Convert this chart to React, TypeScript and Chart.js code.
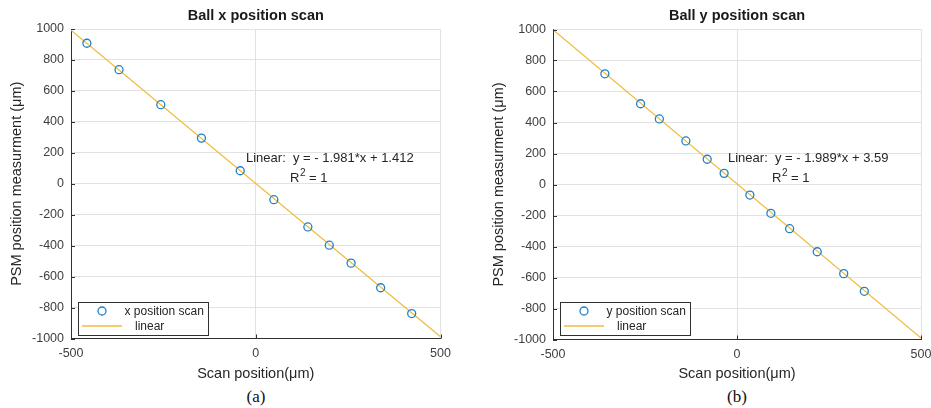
import React, { useEffect, useRef } from "react";
import { Chart, registerables } from "chart.js";

Chart.register(...registerables);

// ---------- data ----------
const xScanPos = [-457, -370, -257, -147, -42, 49, 141, 199, 258, 338, 422];
const xScanMeas = [908, 737, 511, 295, 84, -103, -279, -397, -513, -672, -839];
const yScanPos = [-359, -262, -211, -139, -81, -35, 35, 92, 143, 218, 290, 346];
const yScanMeas = [714, 521, 423, 281, 163, 72, -68, -186, -285, -434, -575, -689];
const fitRange = [-500, 500];
const xFitMeas = [992, -989];
const yFitMeas = [998, -991];
const xTickValues = [-500, 0, 500];
const yTickValues = [-1000, -800, -600, -400, -200, 0, 200, 400, 600, 800, 1000];
const panelTitles = ["Ball x position scan", "Ball y position scan"];
const seriesLabels = ["x position scan", "y position scan"];
const fitLabel = "linear";
const fitEquations = ["Linear:  y = - 1.981*x + 1.412", "Linear:  y = - 1.989*x + 3.59"];
const rSquaredValues = ["1", "1"];
const captions = ["(a)", "(b)"];
const xAxisTitle = "Scan position(\u03BCm)";
const yAxisTitle = "PSM position measurment (\u03BCm)";

// ---------- style ----------
const FONT = "'Liberation Sans', Arial, Helvetica, sans-serif";
const BLUE = "#1f80c8";
const GOLD = "#eebb3c";
const GRID = "#e2e2e2";
const AXIS = "#303030";
const TICK = "#404040";
const TEXT = "#262626";

const decorPlugin = {
  id: "panelDecor",
  afterDraw(chart: any, _args: any, opts: any) {
    const { ctx, chartArea: a, scales } = chart;
    ctx.save();
    // inside tick marks
    ctx.strokeStyle = AXIS;
    ctx.lineWidth = 1;
    scales.y.ticks.forEach((t: any) => {
      const y = Math.round(scales.y.getPixelForValue(t.value)) + 0.5;
      ctx.beginPath();
      ctx.moveTo(a.left, y);
      ctx.lineTo(a.left + 4, y);
      ctx.stroke();
    });
    scales.x.ticks.forEach((t: any) => {
      const x = Math.round(scales.x.getPixelForValue(t.value)) + 0.5;
      ctx.beginPath();
      ctx.moveTo(x, a.bottom);
      ctx.lineTo(x, a.bottom - 4);
      ctx.stroke();
    });

    // title
    ctx.fillStyle = "#1a1a1a";
    ctx.font = `bold 14.5px ${FONT}`;
    ctx.textAlign = "center";
    ctx.textBaseline = "middle";
    ctx.fillText(opts.title, (a.left + a.right) / 2, 16);

    // fit annotation
    ctx.fillStyle = TEXT;
    ctx.font = `13px ${FONT}`;
    ctx.textAlign = "left";
    ctx.fillText(opts.equation, a.left + 175, a.top + 129);
    let rx = a.left + 219;
    const ry = a.top + 149;
    ctx.fillText("R", rx, ry);
    rx += ctx.measureText("R").width;
    ctx.font = `10px ${FONT}`;
    ctx.fillText("2", rx + 0.5, ry - 5);
    rx += ctx.measureText("2").width + 0.5;
    ctx.font = `13px ${FONT}`;
    ctx.fillText(" = " + opts.r2, rx, ry);

    // legend
    const bx = Math.round(a.left + 7) + 0.5;
    const by = 302.5;
    const bw = 130;
    const bh = 33;
    ctx.fillStyle = "#ffffff";
    ctx.fillRect(bx, by, bw, bh);
    ctx.strokeStyle = AXIS;
    ctx.lineWidth = 1;
    ctx.strokeRect(bx, by, bw, bh);
    const ds = chart.data.datasets;
    // row 1: marker
    ctx.strokeStyle = BLUE;
    ctx.lineWidth = 1.3;
    ctx.beginPath();
    ctx.arc(bx + 23.5, by + 8.5, 4, 0, Math.PI * 2);
    ctx.stroke();
    ctx.fillStyle = TEXT;
    ctx.font = `12px ${FONT}`;
    ctx.textBaseline = "middle";
    ctx.fillText(ds[0].label, bx + 46, by + 9);
    // row 2: line
    ctx.strokeStyle = GOLD;
    ctx.lineWidth = 1.3;
    ctx.beginPath();
    ctx.moveTo(bx + 3.5, by + 23.5);
    ctx.lineTo(bx + 43.5, by + 23.5);
    ctx.stroke();
    ctx.fillText(ds[1].label, bx + 56.5, by + 24);
    ctx.restore();
  },
};

type PanelProps = {
  left: number;
  width: number;
  height: number;
  yAxisWidth: number;
  padRight: number;
  padTop: number;
  xAxisHeight: number;
  yTitlePad: number;
  pos: number[];
  meas: number[];
  fitMeas: number[];
  title: string;
  label: string;
  equation: string;
  r2: string;
};

function Panel(p: PanelProps) {
  const ref = useRef<HTMLCanvasElement | null>(null);
  useEffect(() => {
    if (!ref.current) return;
    const tickFont = { family: FONT, size: 12.5 };
    const titleFont = { family: FONT, size: 14.5 };
    const chart = new Chart(ref.current, {
      type: "scatter",
      data: {
        datasets: [
          {
            label: p.label,
            data: p.pos.map((x, i) => ({ x, y: p.meas[i] })),
            showLine: false,
            pointRadius: 4,
            pointHoverRadius: 4,
            pointBorderWidth: 1.3,
            pointBorderColor: BLUE,
            pointBackgroundColor: "rgba(0,0,0,0)",
          },
          {
            label: fitLabel,
            data: fitRange.map((x, i) => ({ x, y: p.fitMeas[i] })),
            showLine: true,
            borderColor: GOLD,
            borderWidth: 1.2,
            pointRadius: 0,
            fill: false,
          },
        ],
      },
      options: {
        animation: false,
        responsive: false,
        maintainAspectRatio: false,
        devicePixelRatio: 1,
        events: [],
        layout: { padding: { left: 0, right: p.padRight, top: p.padTop, bottom: 0 } },
        plugins: {
          legend: { display: false },
          tooltip: { enabled: false },
          title: { display: false },
          panelDecor: { title: p.title, equation: p.equation, r2: p.r2 },
        } as any,
        scales: {
          x: {
            type: "linear",
            min: -500,
            max: 500,
            afterBuildTicks: (s: any) => {
              s.ticks = xTickValues.map((v) => ({ value: v }));
            },
            afterFit: (s: any) => {
              s.height = p.xAxisHeight;
            },
            grid: { color: GRID, lineWidth: 1, drawTicks: false },
            border: { color: AXIS, width: 1 },
            ticks: {
              color: TICK,
              font: tickFont,
              padding: 8,
              maxRotation: 0,
              autoSkip: false,
              callback: (v: any) => String(v),
            },
            title: {
              display: true,
              text: xAxisTitle,
              color: TEXT,
              font: titleFont,
              padding: { top: 0, bottom: 2.3 },
            },
          },
          y: {
            type: "linear",
            min: -1000,
            max: 1000,
            afterBuildTicks: (s: any) => {
              s.ticks = yTickValues.map((v) => ({ value: v }));
            },
            afterFit: (s: any) => {
              s.width = p.yAxisWidth;
            },
            grid: { color: GRID, lineWidth: 1, drawTicks: false },
            border: { color: AXIS, width: 1 },
            ticks: {
              color: TICK,
              font: tickFont,
              padding: 7,
              autoSkip: false,
              callback: (v: any) => String(v),
            },
            title: {
              display: true,
              text: yAxisTitle,
              color: TEXT,
              font: titleFont,
              padding: { top: p.yTitlePad, bottom: 0 },
            },
          },
        },
      },
      plugins: [decorPlugin as any],
    });
    return () => chart.destroy();
  }, []);
  return (
    <canvas
      ref={ref}
      width={p.width}
      height={p.height}
      style={{ position: "absolute", left: p.left, top: 0, width: p.width, height: p.height }}
    />
  );
}

export default function App() {
  const captionStyle = (cx: number): React.CSSProperties => ({
    position: "absolute",
    left: cx - 30,
    width: 60,
    top: 387,
    textAlign: "center",
    fontFamily: "'Liberation Serif', 'Times New Roman', serif",
    fontSize: 17,
    lineHeight: "20px",
    color: "#111",
  });
  return (
    <div
      style={{
        position: "fixed",
        left: 0,
        top: 0,
        width: 931,
        height: 408,
        overflow: "hidden",
        background: "#ffffff",
      }}
    >
      <Panel
        left={0}
        width={460}
        height={385}
        yAxisWidth={71}
        padRight={19.5}
        padTop={29}
        xAxisHeight={46.5}
        yTitlePad={8.3}
        pos={xScanPos}
        meas={xScanMeas}
        fitMeas={xFitMeas}
        title={panelTitles[0]}
        label={seriesLabels[0]}
        equation={fitEquations[0]}
        r2={rSquaredValues[0]}
      />
      <Panel
        left={470}
        width={471}
        height={385}
        yAxisWidth={83}
        padRight={20}
        padTop={29.5}
        xAxisHeight={45.5}
        yTitlePad={20.3}
        pos={yScanPos}
        meas={yScanMeas}
        fitMeas={yFitMeas}
        title={panelTitles[1]}
        label={seriesLabels[1]}
        equation={fitEquations[1]}
        r2={rSquaredValues[1]}
      />
      <div style={captionStyle(256)}>{captions[0]}</div>
      <div style={captionStyle(737)}>{captions[1]}</div>
    </div>
  );
}
